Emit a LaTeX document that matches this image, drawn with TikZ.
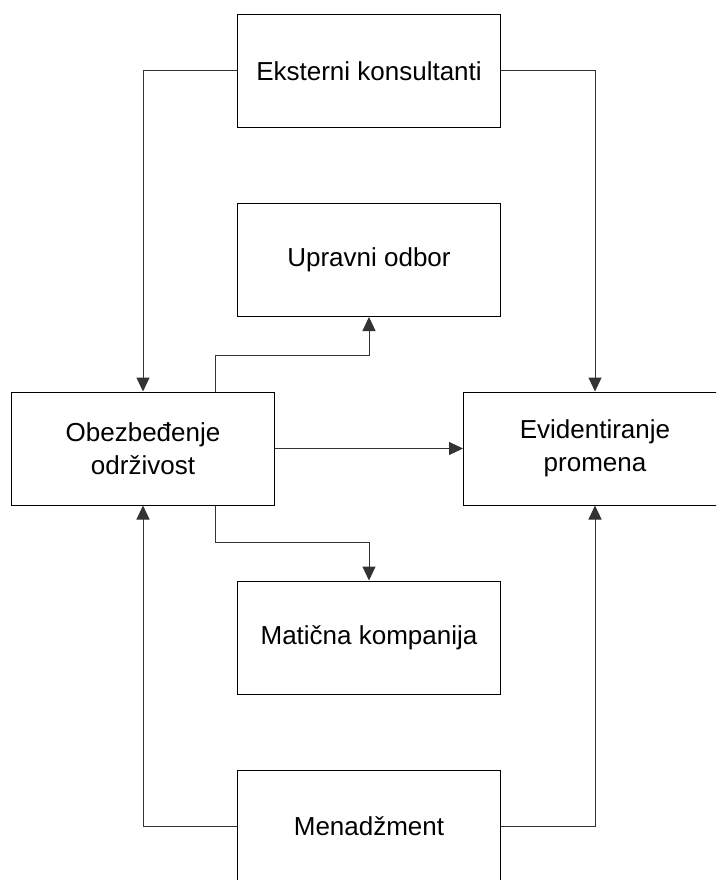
\documentclass[tikz,border=0pt]{standalone}
\usepackage{fontspec}
\setmainfont{Liberation Sans}
\usetikzlibrary{arrows.meta}
\begin{document}
\begin{tikzpicture}[x=1pt,y=-1pt,
  box/.style={draw=black, line width=1pt, minimum width=263pt, minimum height=113pt,
    inner sep=0pt, align=center, font=\fontsize{26}{33}\selectfont},
  link/.style={draw=black!80, line width=1pt, -{Triangle[length=14pt,width=13pt]}}]
\useasboundingbox (0,0) rectangle (716,880);
\fill[white] (0,0) rectangle (716,880);
\begin{scope}
\clip (0,0) rectangle (716,880);
% organisational units
\node[box] (ek) at (369,71)    {Eksterni konsultanti};
\node[box] (up) at (369,260)   {Upravni odbor};
\node[box] (ob) at (143,448.5) {Obezbeđenje\\održivost};
\node[box] (ev) at (595,448.5) {Evidentiranje\\promena};
\node[box] (ma) at (369,637.5) {Matična kompanija};
\node[box] (me) at (369,826.5) {Menadžment};
% flows
\draw[link] (ek.west) -| (ob.north);
\draw[link] (ek.east) -| (ev.north);
\draw[link] ([xshift=72pt]ob.north) -- ++(0,-36) -| (up.south);
\draw[link] (ob.east) -- (ev.west);
\draw[link] ([xshift=72pt]ob.south) -- ++(0,37) -| (ma.north);
\draw[link] (me.west) -| (ob.south);
\draw[link] (me.east) -| (ev.south);
\end{scope}
\end{tikzpicture}
\end{document}
